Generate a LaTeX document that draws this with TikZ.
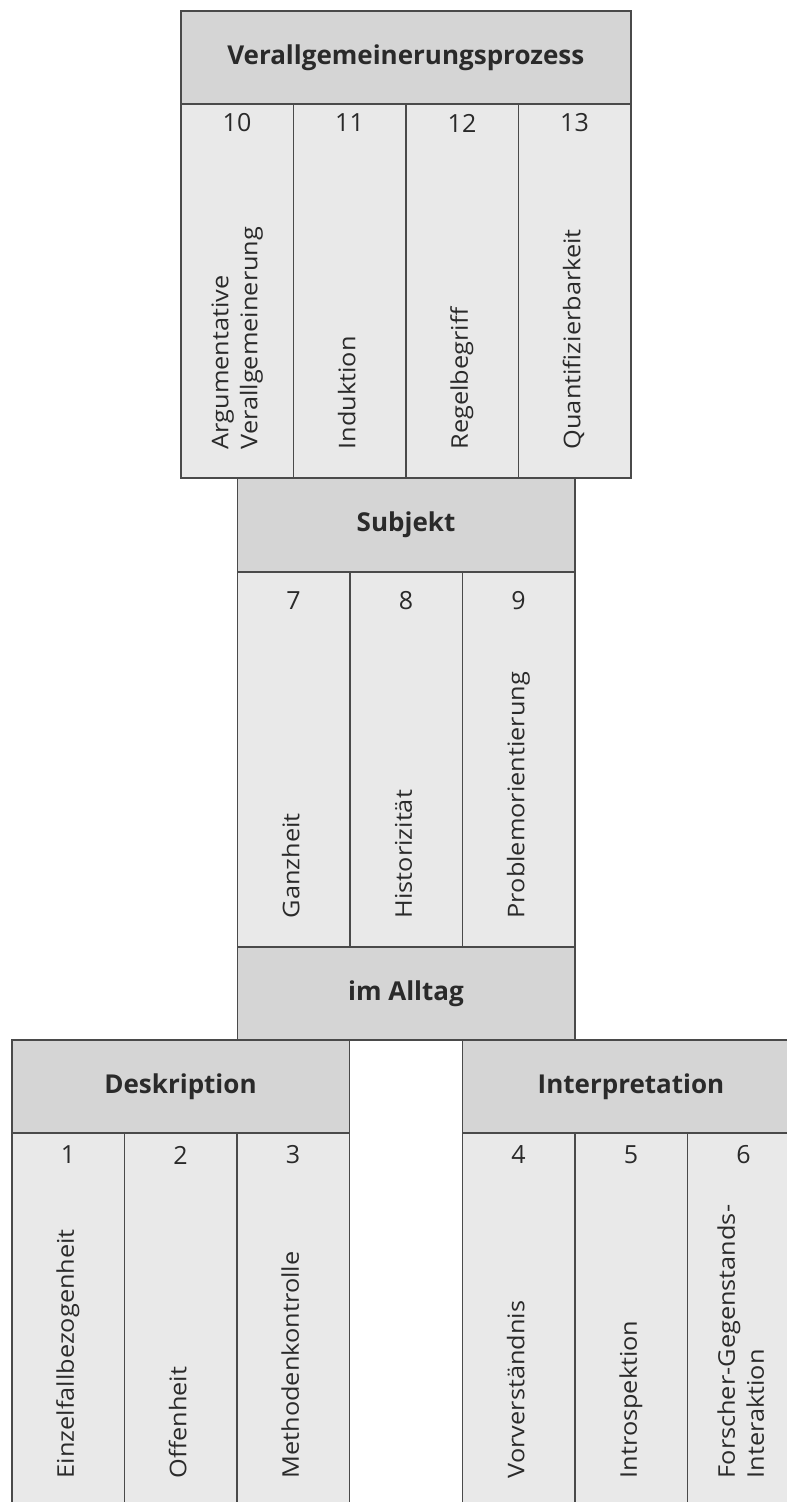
\documentclass[tikz,border=0pt]{standalone}
\usepackage{fontspec}
\setmainfont{Open Sans}
\definecolor{linec}{HTML}{4A4A4A}
\definecolor{hdrfill}{HTML}{D5D5D5}
\definecolor{colfill}{HTML}{E9E9E9}
\definecolor{txt}{HTML}{2A2A2A}
\newcommand{\mylbl}[1]{\scalebox{1.1}[1]{\begin{tabular}{@{}l@{}}#1\end{tabular}}}
\tikzset{
  hdr/.style={draw=linec, fill=hdrfill, line width=1.5pt, inner sep=0pt, anchor=north west,
    text=txt, font=\fontsize{26}{30}\selectfont\bfseries},
  colbox/.style={draw=linec, fill=colfill, line width=1.5pt, inner sep=0pt, anchor=north west,
    minimum width=112.5pt, minimum height=#1},
  num/.style={font=\fontsize{25}{29}\selectfont, inner sep=0pt, text=txt},
  lab/.style={rotate=90, anchor=west, font=\fontsize{23}{29}\selectfont,
    inner sep=0pt, text=txt},
}
\begin{document}
\begin{tikzpicture}[x=1pt,y=-1pt]
\path[use as bounding box, clip] (0,0) rectangle (787,1502);
% top block
\node[hdr, minimum width=450pt, minimum height=93pt] (verall) at (180,10) {Verallgemeinerungsprozess};
\node[colbox=374pt] (c10) at (180,103) {};
\node[colbox=374pt] (c11) at (292.5,103) {};
\node[colbox=374pt] (c12) at (405,103) {};
\node[colbox=374pt] (c13) at (517.5,103) {};
% subjekt block
\node[hdr, minimum width=337.5pt, minimum height=94pt] (subj) at (236.5,477) {Subjekt};
\node[colbox=375pt] (c7) at (236.5,571) {};
\node[colbox=375pt] (c8) at (349,571) {};
\node[colbox=375pt] (c9) at (461.5,571) {};
\node[hdr, minimum width=337.5pt, minimum height=93pt] (alltag) at (236.5,946) {im Alltag};
% bottom left
\node[hdr, minimum width=337.5pt, minimum height=93pt] (deskr) at (11,1039) {Deskription};
\node[colbox=374pt] (c1) at (11,1132) {};
\node[colbox=374pt] (c2) at (123.5,1132) {};
\node[colbox=374pt] (c3) at (236,1132) {};
% bottom right
\node[hdr, minimum width=337.5pt, minimum height=93pt] (interp) at (461.5,1039) {Interpretation};
\node[colbox=374pt] (c4) at (461.5,1132) {};
\node[colbox=374pt] (c5) at (574,1132) {};
\node[colbox=374pt] (c6) at (686.5,1132) {};
% numbers
\foreach \c in {10,11,12,13}{\node[num] (n\c) at ([yshift=-20pt]c\c.north) {\c};}
\foreach \c in {7,8,9}{\node[num] (n\c) at ([yshift=-30pt]c\c.north) {\c};}
\foreach \c in {1,...,6}{\node[num] (n\c) at ([yshift=-23pt]c\c.north) {\c};}
% labels
\node[lab] (l10) at ([yshift=29pt]c10.south) {\mylbl{Argumentative\\Verallgemeinerung}};
\node[lab] (l11) at ([yshift=29pt]c11.south) {\mylbl{Induktion}};
\node[lab] (l12) at ([yshift=29pt]c12.south) {\mylbl{Regelbegriff}};
\node[lab] (l13) at ([yshift=29pt]c13.south) {\mylbl{Quantifizierbarkeit}};
\node[lab] (l7) at ([yshift=29pt]c7.south) {\mylbl{Ganzheit}};
\node[lab] (l8) at ([yshift=29pt]c8.south) {\mylbl{Historizität}};
\node[lab] (l9) at ([yshift=29pt]c9.south) {\mylbl{Problemorientierung}};
\node[lab] (l1) at ([yshift=29pt]c1.south) {\mylbl{Einzelfallbezogenheit}};
\node[lab] (l2) at ([yshift=29pt]c2.south) {\mylbl{Offenheit}};
\node[lab] (l3) at ([yshift=29pt]c3.south) {\mylbl{Methodenkontrolle}};
\node[lab] (l4) at ([yshift=29pt]c4.south) {\mylbl{Vorverständnis}};
\node[lab] (l5) at ([yshift=29pt]c5.south) {\mylbl{Introspektion}};
\node[lab] (l6) at ([yshift=29pt]c6.south) {\mylbl{Forscher-Gegenstands-\\Interaktion}};
\end{tikzpicture}
\end{document}
